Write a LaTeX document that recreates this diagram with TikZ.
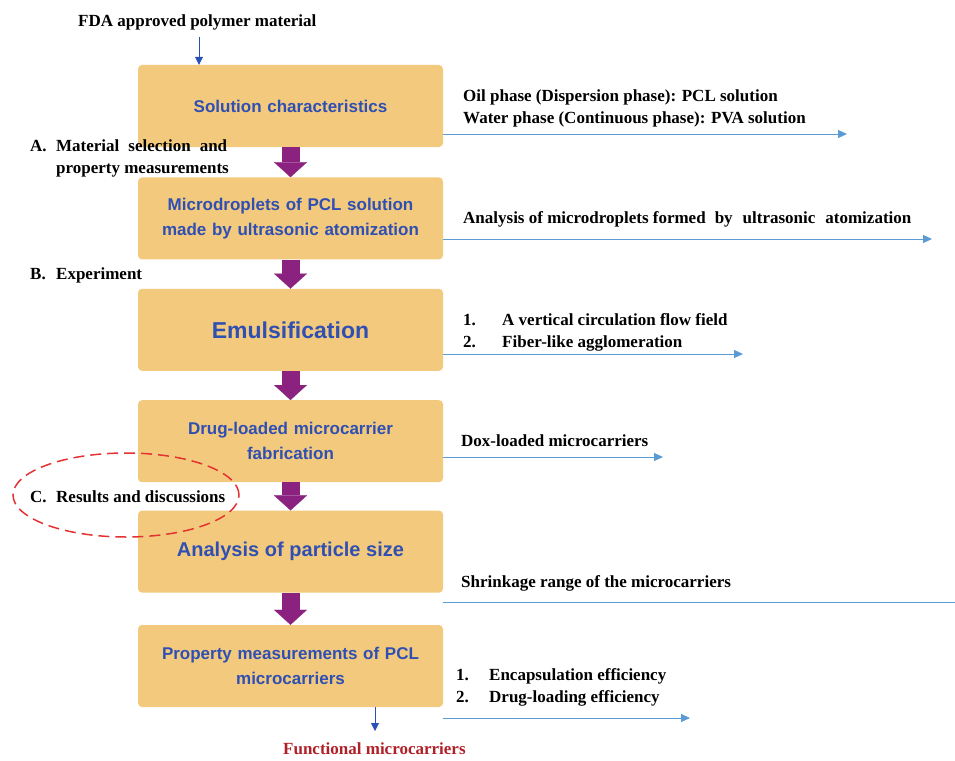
\documentclass[tikz,border=0pt]{standalone}
\usepackage{fontspec}
\setmainfont{Liberation Serif}
\setsansfont{Liberation Sans}
\usetikzlibrary{arrows.meta,positioning}

\definecolor{boxfill}{RGB}{243,202,125}
\definecolor{boxtext}{RGB}{47,79,178}
\definecolor{flowpurple}{RGB}{139,34,128}
\definecolor{sideblue}{RGB}{91,155,213}
\definecolor{smallblue}{RGB}{40,80,185}
\definecolor{outred}{RGB}{176,32,40}
\definecolor{ringred}{RGB}{228,50,50}

\tikzset{%
    Step box/.style={%
        fill=boxfill,
        rounded corners=4pt,
        minimum width=305pt,
        minimum height=82pt,
        text width=290pt,
        align=center,
        text=boxtext,
        font=\sffamily\bfseries\fontsize{17}{25}\selectfont
    },
    Step arrow/.style={%
        draw=flowpurple,
        line width=18pt,
        -{Triangle[length=15pt,width=33pt,line width=0.1pt]}
    },
    Side arrow/.style={%
        draw=sideblue,
        line width=1pt,
        -{Triangle[length=9pt,width=8pt]}
    },
    Side text/.style={%
        anchor=base west,
        inner sep=0pt,
        font=\bfseries\fontsize{17}{22}\selectfont
    },
    Small arrow/.style={%
        draw=smallblue,
        line width=0.9pt,
        -{Triangle[length=8pt,width=8pt]}
    }
}

\begin{document}
\begin{tikzpicture}[x=1pt,y=-1pt]
\useasboundingbox (0,0) rectangle (955,760);

% colonne des etapes
\node[Step box] (sol) at (290.5,106) {Solution characteristics};
\node[Step box,below=30pt of sol] (drop)
    {Microdroplets of PCL solution\\made by ultrasonic atomization};
\node[Step box,below=29pt of drop] (emul)
    {\fontsize{23}{28}\selectfont Emulsification};
\node[Step box,below=29pt of emul] (drug)
    {Drug-loaded microcarrier\\fabrication};
\node[Step box,below=28pt of drug] (size)
    {\fontsize{20}{25}\selectfont Analysis of particle size};
\node[Step box,below=32pt of size] (prop)
    {Property measurements of PCL\\microcarriers};

\foreach \a/\b in {sol/drop,drop/emul,emul/drug,drug/size,size/prop}
    \draw[Step arrow] (\a.south) -- (\b.north);

% entree et sortie
\node[Side text] (fda) at (78,27) {FDA approved polymer material};
\coordinate (in) at (199,37);
\draw[Small arrow] (in) -- (in |- sol.north);

\node[Side text,text=outred] (func) at (283,754) {Functional microcarriers};
\coordinate (out) at (375,707);
\coordinate (outend) at (375,731);
\draw[Small arrow] (out) -- (outend);

% parties de l'article
\node[Side text] (partA) at (30,151)
    {\makebox[26pt][l]{A.}Material\hspace{9pt}selection\hspace{9pt}and};
\node[Side text] (partA2) at (56,173) {property measurements};
\node[Side text] (partB) at (30,279) {\makebox[26pt][l]{B.}Experiment};
\node[Side text] (partC) at (30,502) {\makebox[26pt][l]{C.}Results and discussions};
\draw[ringred,line width=1.5pt,dash pattern=on 11pt off 6pt]
    (126,495) ellipse [x radius=113pt,y radius=42pt];

% resultats a droite
\node[Side text] (oil) at (463,101) {Oil phase (Dispersion phase): PCL solution};
\node[Side text] (water) at (463,123) {Water phase (Continuous phase): PVA solution};
\coordinate (e1) at (847,134);
\draw[Side arrow] (sol.east |- e1) -- (e1);

\node[Side text] (atom) at (463,223)
    {Analysis of microdroplets formed\hspace{9pt}by\hspace{10pt}ultrasonic\hspace{10pt}atomization};
\coordinate (e2) at (932,239);
\draw[Side arrow] (drop.east |- e2) -- (e2);

\node[Side text] (flow) at (463,325) {\makebox[39pt][l]{1.}A vertical circulation flow field};
\node[Side text] (fiber) at (463,347) {\makebox[39pt][l]{2.}Fiber-like agglomeration};
\coordinate (e3) at (743,354);
\draw[Side arrow] (emul.east |- e3) -- (e3);

\node[Side text] (dox) at (461,446) {Dox-loaded microcarriers};
\coordinate (e4) at (663,457);
\draw[Side arrow] (drug.east |- e4) -- (e4);

\node[Side text] (shrink) at (461,587) {Shrinkage range of the microcarriers};
\coordinate (e5) at (955,602);
\draw[sideblue,line width=1pt] (size.east |- e5) -- (e5);

\node[Side text] (encap) at (456,680) {\makebox[33pt][l]{1.}Encapsulation efficiency};
\node[Side text] (load) at (456,702) {\makebox[33pt][l]{2.}Drug-loading efficiency};
\coordinate (e6) at (690,718);
\draw[Side arrow] (prop.east |- e6) -- (e6);

\end{tikzpicture}
\end{document}
